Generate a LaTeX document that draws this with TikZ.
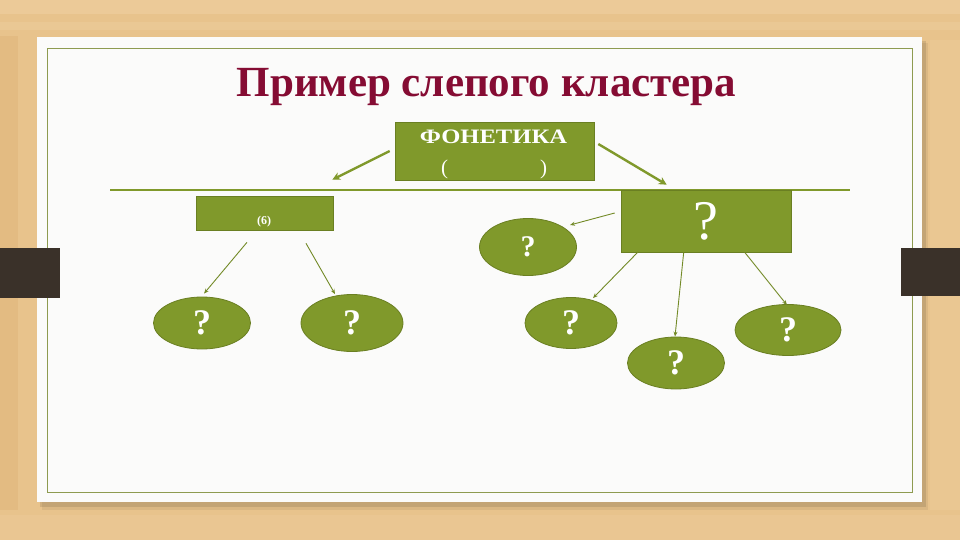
\documentclass[tikz,border=0pt]{standalone}
\usepackage{fontspec}
\setmainfont{Liberation Serif}
\usetikzlibrary{shapes.geometric,arrows.meta}
\definecolor{wood}{HTML}{E8C38C}
\definecolor{woodlight}{HTML}{EFD0A0}
\definecolor{wooddark}{HTML}{E0B47A}
\definecolor{panel}{HTML}{FBFBFA}
\definecolor{frame}{HTML}{8E9B50}
\definecolor{olive}{HTML}{80992B}
\definecolor{olivedark}{HTML}{6A7F22}
\definecolor{barc}{HTML}{3A3129}
\definecolor{titlec}{HTML}{850C33}
\tikzset{
  greenbox/.style={rectangle, fill=olive, draw=olivedark, line width=0.6pt, inner sep=0pt, text=white},
  greenell/.style={ellipse, fill=olive, draw=olivedark, line width=0.8pt, inner sep=0pt, text=white},
  thickarr/.style={draw=olive, line width=2.4pt, -{Stealth[length=8pt,width=8pt]}},
  thinarr/.style={draw=olive!90!black, line width=0.9pt, -{Stealth[length=5pt,width=4pt]}},
  qmark/.style={font=\fontsize{36}{36}\selectfont\bfseries},
  boxtext/.style={text=white, inner sep=0pt}
}
\begin{document}
\begin{tikzpicture}[x=1pt,y=-1pt]
\useasboundingbox (0,0) rectangle (960,540);
% wood background
\fill[wood] (0,0) rectangle (960,540);
\fill[woodlight, opacity=0.6] (0,0) rectangle (960,14);
\fill[woodlight, opacity=0.4] (0,22) rectangle (960,30);
\fill[wooddark, opacity=0.5] (0,36) rectangle (18,510);
\fill[woodlight, opacity=0.35] (930,40) rectangle (960,510);
\fill[woodlight, opacity=0.3] (0,515) rectangle (960,540);
% panel shadow and panel
\fill[black, opacity=0.10] (40,41) rectangle (926,507);
\fill[black, opacity=0.06] (42,43) rectangle (928,510);
\fill[panel] (37,37) rectangle (922,502);
\draw[frame, line width=0.9pt] (47,48) rectangle (912,492);
% side bars
\fill[barc] (0,248) rectangle (60,298);
\fill[barc] (901,248) rectangle (960,296);
% title
\node[anchor=base, text=titlec, font=\fontsize{43}{43}\selectfont\bfseries] (title) at (486.5,97) {Пример слепого кластера};
% horizontal rule
\draw[olive, line width=1.2pt] (110,190) -- (850,190);
% boxes
\node[greenbox, minimum width=199pt, minimum height=58pt] (fon) at (494.5,151) {};
\node[boxtext, font=\fontsize{20.5}{20.5}\selectfont\bfseries] (fontitle) at (493.5,137) {\scalebox{1.2}[1]{ФОНЕТИКА}};
\node[boxtext, font=\fontsize{21}{21}\selectfont] (fonpar) at (494,169) {(\hspace{92pt})};
\node[greenbox, minimum width=137pt, minimum height=34pt] (lrect) at (264.5,213) {};
\node[boxtext, font=\fontsize{12}{12}\selectfont\bfseries] (six) at (264,222) {(6)};
\node[greenbox, minimum width=170pt, minimum height=62pt, font=\fontsize{56}{56}\selectfont] (rrect) at (706,221) {?};
% ellipses
\node[greenell, minimum width=97pt, minimum height=57pt, font=\fontsize{30}{30}\selectfont\bfseries] (mell) at (528,247) {?};
\node[greenell, qmark, minimum width=97pt, minimum height=52pt] (e1) at (202,323) {?};
\node[greenell, qmark, minimum width=102pt, minimum height=57pt] (e2) at (352,323) {?};
\node[greenell, qmark, minimum width=92pt, minimum height=51pt] (e3) at (571,323) {?};
\node[greenell, qmark, minimum width=97pt, minimum height=52pt] (e4) at (676,363) {?};
\node[greenell, qmark, minimum width=106pt, minimum height=51pt] (e5) at (788,330) {?};
% connectors
\draw[thickarr] ([xshift=-5pt]fon.west) -- ([xshift=-1pt,yshift=16pt]lrect.north east);
\draw[thickarr] ([xshift=4pt,yshift=7pt]fon.east) -- ([xshift=46pt,yshift=5pt]rrect.north west);
\draw[thinarr] ([xshift=-6pt,yshift=8pt]rrect.west) -- ([xshift=42pt,yshift=22pt]mell.center);
\draw[thinarr] ([xshift=-17.5pt,yshift=-12pt]lrect.south) -- ([xshift=2pt,yshift=3pt]e1.north);
\draw[thinarr] ([xshift=41.5pt,yshift=-13pt]lrect.south) -- ([xshift=-17pt]e2.north);
\draw[thinarr] ([xshift=17pt]rrect.south west) -- ([xshift=22pt,yshift=-1pt]e3.north);
\draw[thinarr] ([xshift=63pt]rrect.south west) -- ([xshift=-1pt]e4.north);
\draw[thinarr] ([xshift=124pt]rrect.south west) -- ([xshift=-1pt,yshift=-1pt]e5.north);
\end{tikzpicture}
\end{document}
